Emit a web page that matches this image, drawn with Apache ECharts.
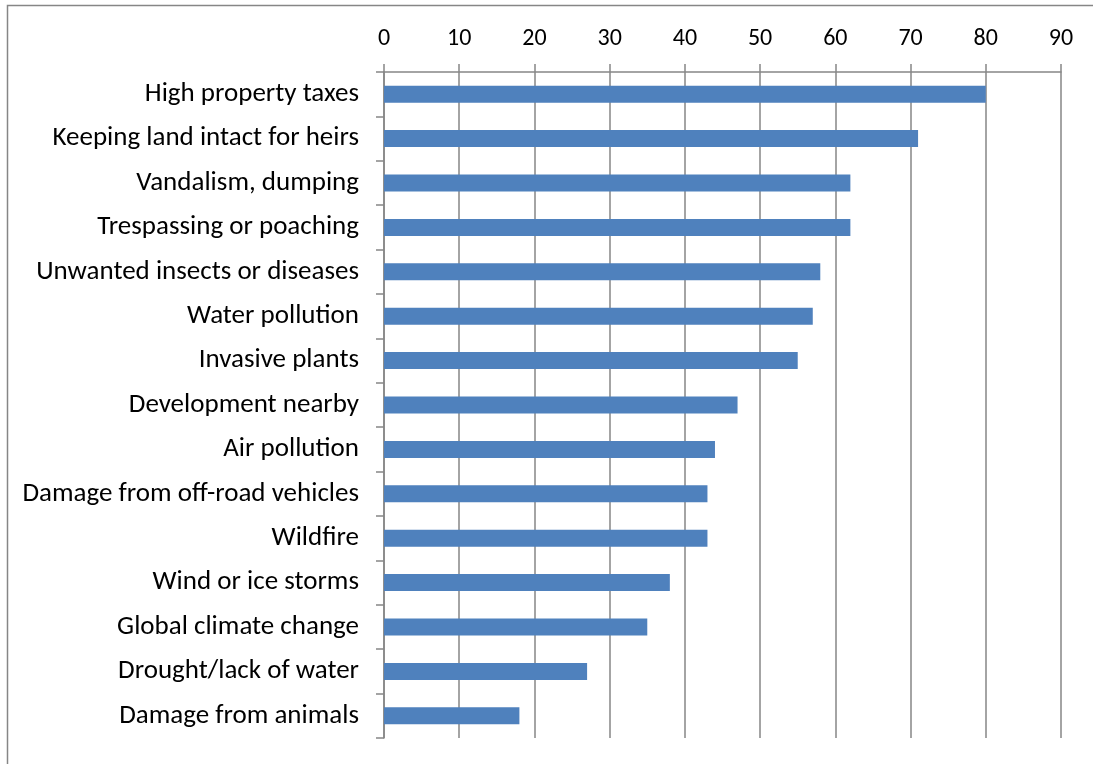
<!DOCTYPE html>
<html>
<head>
<meta charset="utf-8">
<script src="https://cdn.jsdelivr.net/npm/echarts@6/dist/echarts.min.js"></script>
<style>
  html, body { margin: 0; padding: 0; background: #fff; }
  #chart { width: 1093px; height: 764px; }
</style>
</head>
<body>
<div id="chart"></div>
<script>
// Concerns listed top to bottom, with the share of respondents for each
const categories = [
  'High property taxes',
  'Keeping land intact for heirs',
  'Vandalism, dumping',
  'Trespassing or poaching',
  'Unwanted insects or diseases',
  'Water pollution',
  'Invasive plants',
  'Development nearby',
  'Air pollution',
  'Damage from off-road vehicles',
  'Wildfire',
  'Wind or ice storms',
  'Global climate change',
  'Drought/lack of water',
  'Damage from animals'
];
const values = [80, 71, 62, 62, 58, 57, 55, 47, 44, 43, 43, 38, 35, 27, 18];

const axisMin = 0;
const axisMax = 90;
const axisStep = 10;

const fontFamily = 'Carlito, Calibri, Lato, sans-serif';
const gray = '#868686';

const chart = echarts.init(document.getElementById('chart'), null, { renderer: 'canvas' });
chart.setOption({
  backgroundColor: '#fff',
  animation: false,
  graphic: [{
    type: 'rect',
    shape: { x: 7.5, y: 5.5, width: 1200, height: 900 },
    style: { fill: 'none', stroke: gray, lineWidth: 1.5 },
    silent: true
  }],
  grid: { left: 384, right: 32, top: 72, bottom: 26 },
  xAxis: {
    type: 'value',
    position: 'top',
    min: axisMin,
    max: axisMax,
    interval: axisStep,
    axisLine: { show: true, lineStyle: { color: gray, width: 1.5 } },
    axisTick: { show: true, length: 8, lineStyle: { color: gray, width: 1.5 } },
    splitLine: { show: true, lineStyle: { color: gray, width: 1.5 } },
    axisLabel: { color: '#000', fontSize: 24, fontFamily: fontFamily, margin: 21 }
  },
  yAxis: {
    type: 'category',
    data: categories,
    inverse: true,
    axisLine: { show: true, lineStyle: { color: gray, width: 1.5 } },
    axisTick: { show: true, length: 8, lineStyle: { color: gray, width: 1.5 } },
    axisLabel: { color: '#000', fontSize: 27, fontFamily: fontFamily, margin: 25, padding: [4, 0, 0, 0] }
  },
  series: [{
    type: 'bar',
    data: values,
    barWidth: 17,
    itemStyle: { color: '#4F81BD' }
  }]
});
</script>
</body>
</html>
